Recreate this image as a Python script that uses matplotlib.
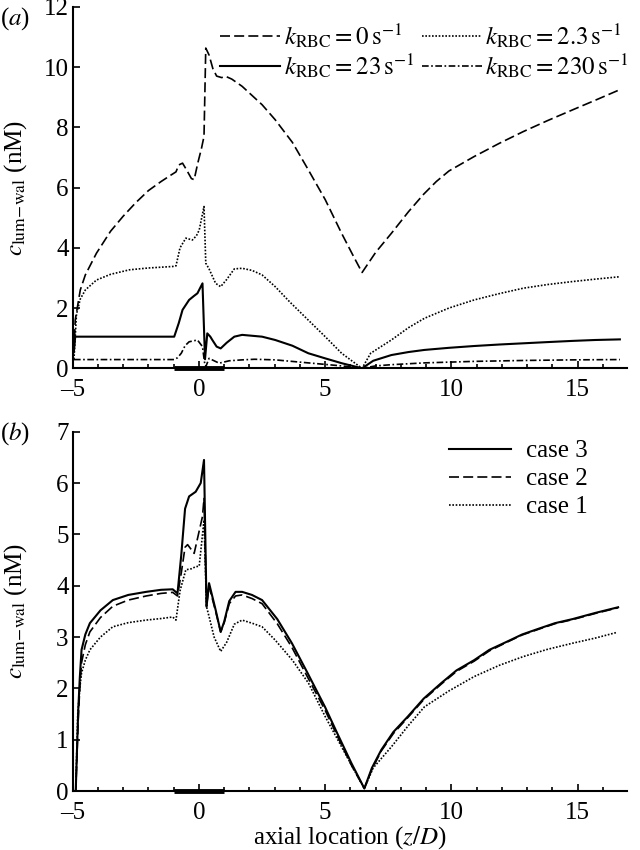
import matplotlib.pyplot as plt

plt.rcParams["font.family"] = ["Liberation Serif", "DejaVu Serif"]
plt.rcParams["mathtext.fontset"] = "stix"
plt.rcParams["font.size"] = 18

# panel (a): luminal wall concentration for several k_RBC
z_k0 = [-4.95, -4.9, -4.7, -4.5, -4.06, -3.5, -3.0, -2.5, -2.0, -1.5, -1.1, -0.91, -0.8,
        -0.65, -0.5, -0.3, -0.19, -0.05, 0.1, 0.2, 0.27, 0.4, 0.55, 0.7, 0.9, 1.06, 1.3,
        1.71, 2.5, 3.02, 3.7, 4.33, 5.0, 5.65, 6.1, 6.46, 7.0, 7.62, 8.3, 8.9, 9.4, 9.9, 10.9,
        11.9, 12.85, 13.8, 14.8, 15.7, 16.67]
c_k0 = [0.5, 1.6, 2.6, 3.1, 3.82, 4.55, 5.05, 5.5, 5.9, 6.2, 6.42, 6.52, 6.75,
        6.81, 6.6, 6.3, 6.26, 6.8, 7.3, 7.7, 10.63, 10.4, 9.95, 9.7, 9.65, 9.69, 9.6,
        9.36, 8.75, 8.25, 7.5, 6.59, 5.6, 4.48, 3.75, 3.18, 3.85, 4.48, 5.2, 5.78, 6.2, 6.55, 7.03,
        7.47, 7.86, 8.22, 8.58, 8.9, 9.25]

z_k2p3 = [-4.95, -4.85, -4.7, -4.5, -4.06, -3.5, -2.75, -2.0, -1.04, -0.91, -0.75, -0.52,
          -0.26, -0.1, 0.01, 0.2, 0.27, 0.4, 0.66, 0.86, 1.1, 1.4, 1.71, 2.1, 2.5, 3.02,
          3.6, 4.33, 5.0, 5.65, 6.1, 6.46, 6.8, 7.62, 8.3, 8.93, 9.9, 10.9, 11.9, 12.85,
          13.8, 14.8, 15.7, 16.67]
c_k2p3 = [0.3, 1.8, 2.3, 2.6, 2.93, 3.12, 3.27, 3.33, 3.38, 3.4, 4.0, 4.32,
          4.26, 4.4, 4.59, 5.37, 3.49, 3.3, 2.82, 2.71, 2.95, 3.3, 3.32, 3.25, 3.1, 2.71,
          2.2, 1.6, 1.05, 0.5, 0.22, 0.0, 0.5, 0.94, 1.35, 1.66, 2.0, 2.27, 2.48, 2.66,
          2.78, 2.88, 2.96, 3.04]

z_k23 = [-4.95, -4.9, -0.98, -0.8, -0.65, -0.39, -0.2, -0.06, 0.14, 0.24, 0.33, 0.45, 0.53,
         0.7, 0.86, 1.1, 1.4, 1.71, 2.5, 3.02, 3.7, 4.33, 5.0, 5.65, 6.46, 6.9, 7.62, 8.3,
         8.93, 9.9, 10.9, 11.9, 12.85, 13.8, 14.8, 15.7, 16.67]
c_k23 = [0.6, 1.05, 1.05, 1.5, 1.94, 2.27, 2.4, 2.49, 2.82, 0.3, 1.16, 1.05, 0.94,
         0.72, 0.66, 0.85, 1.05, 1.11, 1.05, 0.94, 0.75, 0.5, 0.33, 0.17, 0.0, 0.25, 0.44, 0.54,
         0.61, 0.68, 0.74, 0.79, 0.83, 0.87, 0.91, 0.94, 0.96]

z_k230 = [-4.95, -0.98, -0.85, -0.7, -0.55, -0.39, -0.06, 0.14, 0.22, 0.27, 0.4, 0.8, 1.2,
          1.71, 2.2, 3.02, 4.33, 5.65, 6.46, 7.0, 7.62, 8.93, 10.9, 12.85, 14.8, 16.67]
c_k230 = [0.29, 0.29, 0.35, 0.5, 0.75, 0.88, 0.94, 0.72, 0.2, 0.05, 0.33, 0.17, 0.25,
          0.28, 0.3, 0.28, 0.18, 0.08, 0.0, 0.08, 0.12, 0.18, 0.23, 0.26, 0.28, 0.29]

# panel (b): three cases
z_case3 = [-4.88, -4.83, -4.78, -4.72, -4.65, -4.5, -4.32, -3.9, -3.41, -2.8, -2.09, -1.5,
           -1.04, -0.85, -0.7, -0.55, -0.39, -0.13, 0.07, 0.2, 0.3, 0.4, 0.5, 0.66, 0.86,
           1.0, 1.2, 1.45, 1.71, 2.1, 2.5, 3.1, 3.68, 4.3, 4.99, 5.5, 6.04, 6.55, 6.85, 7.22,
           7.7, 8.27, 8.9, 9.59, 10.2, 10.9, 11.5, 12.2, 12.8, 13.5, 14.1, 14.8, 15.7, 16.6]
c_case3 = [0.0, 0.8, 1.58, 2.2, 2.75, 3.05, 3.27, 3.52, 3.72, 3.82, 3.88, 3.92,
           3.93, 3.85, 4.6, 5.5, 5.74, 5.83, 6.0, 6.45, 3.59, 4.05, 3.85, 3.53, 3.1,
           3.3, 3.7, 3.88, 3.88, 3.82, 3.72, 3.35, 2.88, 2.3, 1.64, 1.1, 0.54, 0.05, 0.45, 0.8,
           1.15, 1.45, 1.8, 2.1, 2.35, 2.55, 2.75, 2.91, 3.05, 3.17, 3.27, 3.35, 3.47, 3.58]

z_case2 = [-4.88, -4.83, -4.78, -4.72, -4.65, -4.5, -4.32, -3.9, -3.41, -2.8, -2.09, -1.5,
           -1.04, -0.85, -0.7, -0.55, -0.45, -0.19, 0.14, 0.2, 0.3, 0.4, 0.5, 0.66, 0.86,
           1.0, 1.2, 1.45, 1.71, 2.1, 2.5, 3.1, 3.68, 4.3, 4.99, 5.5, 6.04, 6.55, 6.85, 7.22,
           7.7, 8.27, 8.9, 9.59, 10.2, 10.9, 11.5, 12.2, 12.8, 13.5, 14.1, 14.8, 15.7, 16.6]
c_case2 = [0.0, 0.7, 1.4, 2.0, 2.5, 2.85, 3.1, 3.38, 3.6, 3.72, 3.8, 3.85,
           3.87, 3.8, 4.25, 4.75, 4.8, 4.63, 5.35, 5.7, 3.6, 4.0, 3.8, 3.5, 3.1,
           3.28, 3.65, 3.8, 3.82, 3.75, 3.65, 3.26, 2.8, 2.22, 1.58, 1.05, 0.5, 0.05, 0.42, 0.78,
           1.12, 1.43, 1.78, 2.08, 2.33, 2.53, 2.73, 2.9, 3.04, 3.16, 3.26, 3.34, 3.46, 3.57]

z_case1 = [-4.88, -4.8, -4.72, -4.65, -4.5, -4.32, -3.9, -3.41, -2.8, -2.09, -1.5, -1.04,
           -0.91, -0.75, -0.52, -0.3, -0.13, 0.01, 0.2, 0.3, 0.4, 0.6, 0.86, 1.1, 1.4, 1.71,
           2.1, 2.5, 3.02, 3.7, 4.34, 5.0, 5.65, 6.1, 6.55, 6.9, 7.62, 8.3, 8.93, 9.9, 10.9,
           11.9, 12.85, 13.8, 14.8, 15.7, 16.55]
c_case1 = [0.0, 1.5, 2.0, 2.3, 2.55, 2.75, 3.0, 3.2, 3.28, 3.33, 3.36, 3.39,
           3.33, 3.9, 4.31, 4.33, 4.37, 4.38, 5.28, 3.59, 3.4, 3.0, 2.72, 2.9, 3.25, 3.33,
           3.27, 3.2, 2.94, 2.55, 2.1, 1.45, 0.86, 0.45, 0.05, 0.45, 0.86, 1.28, 1.64, 1.95, 2.23,
           2.45, 2.62, 2.76, 2.88, 2.98, 3.09]

stenosis = [-1.0, 1.0]

fig = plt.figure(figsize=(6.4, 8.5), dpi=100)
ax_a = fig.add_axes([0.1136, 0.5667, 0.866, 0.4253])
ax_b = fig.add_axes([0.1136, 0.0694, 0.866, 0.4227])

dash = (0, (6, 2.5))
dot = (0, (1, 1))
ax_a.plot(z_k0, c_k0, color="black", lw=1.2, ls=dash, label=r"$k_{\mathrm{RBC}}=0\,\mathrm{s}^{-1}$")
ax_a.plot(z_k23, c_k23, color="black", lw=1.5, ls="-", label=r"$k_{\mathrm{RBC}}=23\,\mathrm{s}^{-1}$")
ax_a.plot(z_k2p3, c_k2p3, color="black", lw=1.2, ls=dot, label=r"$k_{\mathrm{RBC}}=2.3\,\mathrm{s}^{-1}$")
ax_a.plot(z_k230, c_k230, color="black", lw=1.2, ls=(0, (4, 1.5, 1, 1.5)),
          label=r"$k_{\mathrm{RBC}}=230\,\mathrm{s}^{-1}$")

ax_b.plot(z_case3, c_case3, color="black", lw=1.5, ls="-", label="case 3")
ax_b.plot(z_case2, c_case2, color="black", lw=1.2, ls=dash, label="case 2")
ax_b.plot(z_case1, c_case1, color="black", lw=1.2, ls=dot, label="case 1")

ylabel = r"$c_{\mathrm{lum\!-\!wal}}$ (nM)"
for ax, ymax, yticks in [(ax_a, 12, range(0, 13, 2)), (ax_b, 7, range(0, 8))]:
    ax.plot(stenosis, [0, 0], color="black", lw=3.5, solid_capstyle="butt", clip_on=False)
    ax.set_xlim(-5, 16.95)
    ax.set_ylim(0, ymax)
    ax.set_yticks(list(yticks))
    ax.set_xticks([-5, 0, 5, 10, 15])
    ax.set_xticklabels(["\u20135", "0", "5", "10", "15"])
    ax.set_xticks(range(-5, 17), minor=True)
    ax.tick_params(direction="in", length=5, width=1.2, labelsize=18)
    ax.tick_params(axis="x", pad=8)
    ax.tick_params(axis="y", pad=3)
    ax.tick_params(which="minor", direction="in", length=3, width=1.2)
    ax.spines["top"].set_visible(False)
    ax.spines["right"].set_visible(False)
    ax.spines["left"].set_linewidth(1.5)
    ax.spines["bottom"].set_linewidth(1.5)
    ax.set_ylabel(ylabel, fontsize=18)
    ax.yaxis.set_label_coords(-0.078, 0.5)

ax_b.set_xlabel(r"axial location ($z/D$)", fontsize=18, labelpad=0)

ax_a.legend(ncol=2, loc="upper right", bbox_to_anchor=(1.03, 1.0), frameon=False,
            fontsize=18, handlelength=2.4, handletextpad=0.15, columnspacing=0.3,
            labelspacing=0.05, borderaxespad=0.2)
ax_b.legend(loc="upper right", bbox_to_anchor=(0.97, 1.04), frameon=False,
            fontsize=18, handlelength=2.5, handletextpad=0.6, labelspacing=0.22)

fig.text(0.0, 0.978, r"($a$)", fontsize=18, va="center")
fig.text(0.0, 0.49, r"($b$)", fontsize=18, va="center")

fig.savefig("out.png", dpi=100)
